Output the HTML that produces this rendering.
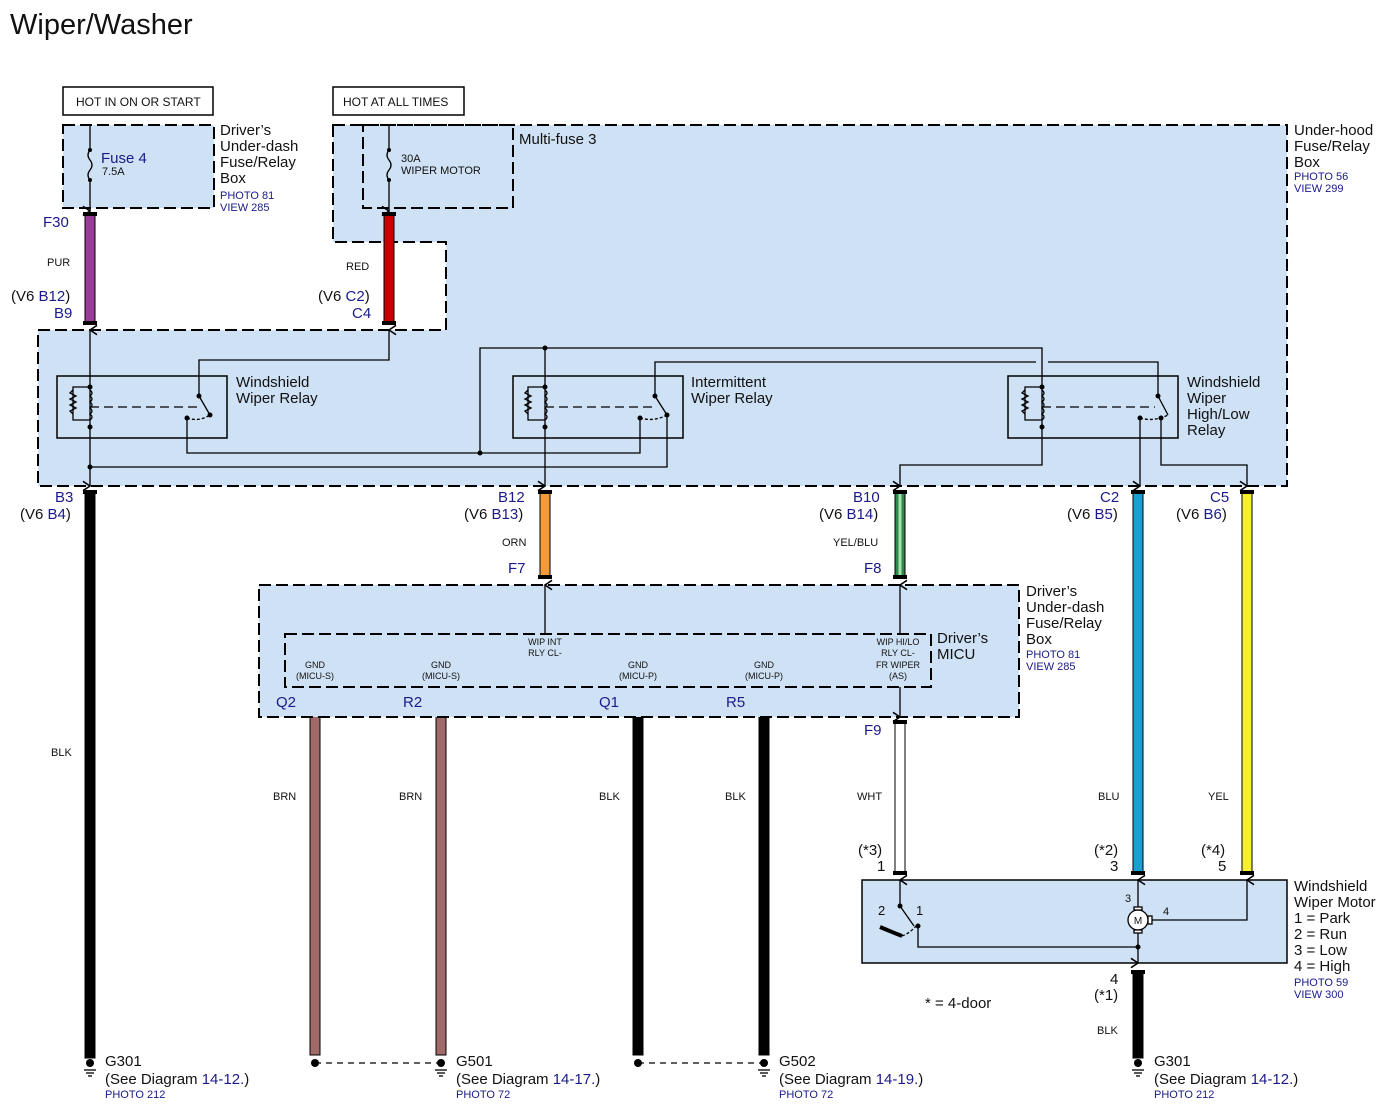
<!DOCTYPE html>
<html><head><meta charset="utf-8"><style>
html,body{margin:0;padding:0;background:#fff}
svg{display:block}
text{font-family:"Liberation Sans",sans-serif;fill:#111}
.b{fill:#1a1a8a}
.s{font-size:11px}
.m{font-size:13px}
.l{font-size:15px}
</style></head><body>
<svg width="1390" height="1119" viewBox="0 0 1390 1119" xmlns="http://www.w3.org/2000/svg">
<defs>
<marker id="ar" viewBox="0 0 10 10" refX="5" refY="1" markerWidth="9" markerHeight="9" orient="auto-start-reverse">
<path d="M1,7 L5,1 L9,7" fill="none" stroke="#000" stroke-width="1.3"/></marker>
</defs>
<text x="10" y="34" style="font-size:29px">Wiper/Washer</text>

<!-- HOT boxes -->
<rect x="63" y="87" width="150" height="28" fill="#fff" stroke="#000" stroke-width="1.5"/>
<text x="76" y="106" style="font-size:12px">HOT IN ON OR START</text>
<rect x="333" y="87" width="131" height="28" fill="#fff" stroke="#000" stroke-width="1.5"/>
<text x="343" y="106" style="font-size:12px">HOT AT ALL TIMES</text>

<!-- Under-hood box -->
<path d="M333,125 H1287 V486 H38 V330 H446 V242 H333 Z" fill="#cfe1f4" stroke="#000" stroke-width="2" stroke-dasharray="12,5"/>
<rect x="363" y="125" width="150" height="83" fill="none" stroke="#000" stroke-width="2" stroke-dasharray="12,5"/>
<rect x="63" y="125" width="151" height="83" fill="#cfe1f4" stroke="#000" stroke-width="2" stroke-dasharray="12,5"/>

<!-- fuses -->
<g stroke="#000" stroke-width="1.3" fill="none">
<line x1="90" y1="125" x2="90" y2="150"/><path d="M90,150 q-4,5 0,10 q4,5 0,10 q-4,5 0,10"/><line x1="90" y1="180" x2="90" y2="211" marker-end="url(#ar)"/>
<line x1="389" y1="125" x2="389" y2="150"/><path d="M389,150 q-4,5 0,10 q4,5 0,10 q-4,5 0,10"/><line x1="389" y1="180" x2="389" y2="211" marker-end="url(#ar)"/>
</g>
<circle cx="90" cy="150" r="2"/><circle cx="90" cy="180" r="2"/><circle cx="389" cy="150" r="2"/><circle cx="389" cy="180" r="2"/>
<text x="101" y="163" class="l b">Fuse 4</text><text x="102" y="175" class="s">7.5A</text>
<text x="401" y="162" class="s">30A</text><text x="401" y="174" class="s">WIPER MOTOR</text>
<text x="519" y="144" class="l">Multi-fuse 3</text>
<g class="l"><text x="220" y="135">Driver’s</text><text x="220" y="151">Under-dash</text><text x="220" y="167">Fuse/Relay</text><text x="220" y="183">Box</text></g>
<text x="220" y="199" class="s b">PHOTO 81</text><text x="220" y="211" class="s b">VIEW 285</text>
<g class="l"><text x="1294" y="135">Under-hood</text><text x="1294" y="151">Fuse/Relay</text><text x="1294" y="167">Box</text></g>
<text x="1294" y="180" class="s b">PHOTO 56</text><text x="1294" y="192" class="s b">VIEW 299</text>

<!-- wires -->
<g stroke="#000" stroke-width="1">
<rect x="85" y="214" width="10" height="110" fill="#9a3c9a"/>
<rect x="384" y="214" width="10" height="110" fill="#c90000"/>
<rect x="85" y="492" width="10" height="566" fill="#000"/>
<rect x="540" y="492" width="10" height="85" fill="#f39a3a"/>
<rect x="895" y="492" width="10" height="85" fill="#2c8a4a"/>
<rect x="1133" y="492" width="10" height="381" fill="#1aa0d0"/>
<rect x="1242" y="492" width="10" height="381" fill="#f7f030"/>
<rect x="895" y="722" width="10" height="151" fill="#fff"/>
<rect x="310" y="695" width="10" height="360" fill="#a06a68"/>
<rect x="436" y="695" width="10" height="360" fill="#a06a68"/>
<rect x="633" y="695" width="10" height="360" fill="#000"/>
<rect x="759" y="695" width="10" height="360" fill="#000"/>
<rect x="1133" y="972" width="10" height="86" fill="#000"/>
</g>
<line x1="900" y1="492" x2="900" y2="577" stroke="#a8e0b0" stroke-width="3"/>
<!-- terminal caps -->
<g fill="#000">
<rect x="83" y="212" width="14" height="4"/><rect x="83" y="321" width="14" height="4"/>
<rect x="382" y="212" width="14" height="4"/><rect x="382" y="321" width="14" height="4"/>
<rect x="83" y="490" width="14" height="4"/><rect x="538" y="490" width="14" height="4"/><rect x="538" y="575" width="14" height="4"/>
<rect x="893" y="490" width="14" height="4"/><rect x="893" y="575" width="14" height="4"/>
<rect x="1131" y="490" width="14" height="4"/><rect x="1240" y="490" width="14" height="4"/>
<rect x="893" y="720" width="14" height="4"/><rect x="893" y="871" width="14" height="4"/>
<rect x="1131" y="871" width="14" height="4"/><rect x="1240" y="871" width="14" height="4"/>
<rect x="308" y="693" width="14" height="4"/><rect x="434" y="693" width="14" height="4"/>
<rect x="631" y="693" width="14" height="4"/><rect x="757" y="693" width="14" height="4"/>
<rect x="1131" y="970" width="14" height="4"/>
</g>

<!-- wire labels -->
<text x="43" y="227" class="l b">F30</text>
<text x="47" y="266" class="s">PUR</text>
<text x="346" y="270" class="s">RED</text>
<text x="11" y="301" class="l">(V6 <tspan class="b">B12</tspan>)</text><text x="54" y="318" class="l b">B9</text>
<text x="318" y="301" class="l">(V6 <tspan class="b">C2</tspan>)</text><text x="352" y="318" class="l b">C4</text>
<text x="55" y="502" class="l b">B3</text><text x="20" y="519" class="l">(V6 <tspan class="b">B4</tspan>)</text>
<text x="498" y="502" class="l b">B12</text><text x="464" y="519" class="l">(V6 <tspan class="b">B13</tspan>)</text>
<text x="853" y="502" class="l b">B10</text><text x="819" y="519" class="l">(V6 <tspan class="b">B14</tspan>)</text>
<text x="1100" y="502" class="l b">C2</text><text x="1067" y="519" class="l">(V6 <tspan class="b">B5</tspan>)</text>
<text x="1210" y="502" class="l b">C5</text><text x="1176" y="519" class="l">(V6 <tspan class="b">B6</tspan>)</text>
<text x="502" y="546" class="s">ORN</text><text x="833" y="546" class="s">YEL/BLU</text>
<text x="508" y="573" class="l b">F7</text><text x="864" y="573" class="l b">F8</text>
<text x="51" y="756" class="s">BLK</text>
<text x="273" y="800" class="s">BRN</text><text x="399" y="800" class="s">BRN</text>
<text x="599" y="800" class="s">BLK</text><text x="725" y="800" class="s">BLK</text>
<text x="857" y="800" class="s">WHT</text><text x="1098" y="800" class="s">BLU</text><text x="1208" y="800" class="s">YEL</text>
<text x="864" y="735" class="l b">F9</text>
<text x="858" y="855" class="l">(*3)</text><text x="877" y="871" class="l">1</text>
<text x="1094" y="855" class="l">(*2)</text><text x="1110" y="871" class="l">3</text>
<text x="1201" y="855" class="l">(*4)</text><text x="1218" y="871" class="l">5</text>
<text x="1110" y="984" class="l">4</text><text x="1094" y="1000" class="l">(*1)</text>
<text x="1097" y="1034" class="s">BLK</text>
<text x="925" y="1008" class="l">* = 4-door</text>

<!-- relays -->
<g fill="none" stroke="#000" stroke-width="1.5">
<rect x="57" y="376" width="170" height="62"/>
<rect x="513" y="376" width="170" height="62"/>
<rect x="1008" y="376" width="170" height="62"/>
</g>
<g fill="none" stroke="#000" stroke-width="1.3">
<line x1="90" y1="330" x2="90" y2="486" marker-start="url(#ar)" marker-end="url(#ar)"/>
<path d="M90,387 H73 V420 H90"/><path d="M73,390 l-3,3 l6,3 l-6,3 l6,3 l-6,3 l6,3 l-6,3 l3,3"/>
<path d="M90,390 q4,3 0,6 q4,3 0,6 q4,3 0,6 q4,3 0,6 q4,3 0,6"/>
<line x1="90" y1="407" x2="200" y2="407" stroke-dasharray="9,5"/>
<path d="M199,396 L210,415"/><path d="M187,418 q12,4 23,-3" stroke-dasharray="3,2"/>
<path d="M199,396 V360 H389 V330" marker-end="url(#ar)"/>
<path d="M187,418 V453 H640 V418"/>
<path d="M90,467 H667 V415"/>
<line x1="545" y1="348" x2="545" y2="486" marker-end="url(#ar)"/>
<path d="M545,387 H528 V420 H545"/><path d="M528,390 l-3,3 l6,3 l-6,3 l6,3 l-6,3 l6,3 l-6,3 l3,3"/>
<path d="M545,390 q4,3 0,6 q4,3 0,6 q4,3 0,6 q4,3 0,6 q4,3 0,6"/>
<line x1="545" y1="407" x2="655" y2="407" stroke-dasharray="9,5"/>
<path d="M655,396 L667,415"/><path d="M640,418 q14,4 27,-3" stroke-dasharray="3,2"/>
<path d="M480,453 V348 H1042 V465 H900 V486" marker-end="url(#ar)"/>
<path d="M655,396 V362 H1036 M1048,362 H1158 V396"/>
<path d="M1042,387 H1025 V420 H1042"/><path d="M1025,390 l-3,3 l6,3 l-6,3 l6,3 l-6,3 l6,3 l-6,3 l3,3"/>
<path d="M1042,390 q4,3 0,6 q4,3 0,6 q4,3 0,6 q4,3 0,6 q4,3 0,6"/>
<line x1="1042" y1="407" x2="1155" y2="407" stroke-dasharray="9,5"/>
<path d="M1158,396 L1168,415"/><path d="M1140,418 q14,4 28,-3" stroke-dasharray="3,2"/>
<path d="M1140,418 V486" marker-end="url(#ar)"/>
<path d="M1161,418 V465 H1247 V486" marker-end="url(#ar)"/>
</g>
<g fill="#000">
<circle cx="90" cy="387" r="2.5"/><circle cx="90" cy="427" r="2.5"/><circle cx="90" cy="467" r="2.5"/>
<circle cx="199" cy="396" r="2.5"/><circle cx="187" cy="418" r="2.5"/><circle cx="210" cy="415" r="2.5"/>
<circle cx="545" cy="387" r="2.5"/><circle cx="545" cy="427" r="2.5"/><circle cx="545" cy="348" r="2.5"/><circle cx="480" cy="453" r="2.5"/>
<circle cx="655" cy="396" r="2.5"/><circle cx="640" cy="418" r="2.5"/><circle cx="667" cy="415" r="2.5"/>
<circle cx="1042" cy="387" r="2.5"/><circle cx="1042" cy="427" r="2.5"/>
<circle cx="1158" cy="396" r="2.5"/><circle cx="1140" cy="418" r="2.5"/><circle cx="1161" cy="418" r="2.5"/>
</g>
<g class="l"><text x="236" y="387">Windshield</text><text x="236" y="403">Wiper Relay</text>
<text x="691" y="387">Intermittent</text><text x="691" y="403">Wiper Relay</text>
<text x="1187" y="387">Windshield</text><text x="1187" y="403">Wiper</text><text x="1187" y="419">High/Low</text><text x="1187" y="435">Relay</text></g>

<!-- MICU -->
<rect x="259" y="585" width="760" height="132" fill="#cfe1f4" stroke="#000" stroke-width="2" stroke-dasharray="12,5"/>
<rect x="285" y="634" width="646" height="53" fill="none" stroke="#000" stroke-width="2" stroke-dasharray="12,5"/>
<g stroke="#000" stroke-width="1.3" fill="none">
<line x1="545" y1="634" x2="545" y2="585" marker-end="url(#ar)"/>
<line x1="900" y1="634" x2="900" y2="585" marker-end="url(#ar)"/>
<line x1="900" y1="687" x2="900" y2="717" marker-end="url(#ar)"/>
</g>
<g style="font-size:9px" text-anchor="middle">
<text x="545" y="645">WIP INT</text><text x="545" y="656">RLY CL-</text>
<text x="898" y="645">WIP HI/LO</text><text x="898" y="656">RLY CL-</text><text x="898" y="668">FR WIPER</text><text x="898" y="679">(AS)</text>
<text x="315" y="668">GND</text><text x="315" y="679">(MICU-S)</text>
<text x="441" y="668">GND</text><text x="441" y="679">(MICU-S)</text>
<text x="638" y="668">GND</text><text x="638" y="679">(MICU-P)</text>
<text x="764" y="668">GND</text><text x="764" y="679">(MICU-P)</text>
</g>
<g class="l"><text x="937" y="643">Driver’s</text><text x="937" y="659">MICU</text>
<text x="1026" y="596">Driver’s</text><text x="1026" y="612">Under-dash</text><text x="1026" y="628">Fuse/Relay</text><text x="1026" y="644">Box</text></g>
<text x="1026" y="658" class="s b">PHOTO 81</text><text x="1026" y="670" class="s b">VIEW 285</text>
<text x="276" y="707" class="l b">Q2</text><text x="403" y="707" class="l b">R2</text><text x="599" y="707" class="l b">Q1</text><text x="726" y="707" class="l b">R5</text>

<!-- motor -->
<rect x="862" y="880" width="425" height="83" fill="#cfe1f4" stroke="#000" stroke-width="1.5"/>
<g stroke="#000" stroke-width="1.3" fill="none">
<line x1="900" y1="906" x2="900" y2="880" marker-end="url(#ar)"/>
<line x1="900" y1="906" x2="914" y2="926"/>
<path d="M880,927 q12,5 22,9" stroke-width="4"/>
<path d="M902,936 q8,-3 14,-10" stroke-dasharray="3,2"/>
<path d="M918,926 V947 H1138"/>
<line x1="1138" y1="909" x2="1138" y2="880" marker-end="url(#ar)"/>
<line x1="1138" y1="932" x2="1138" y2="963" marker-end="url(#ar)"/>
<path d="M1152,920 H1247 V880" marker-end="url(#ar)"/>
<circle cx="1138" cy="920" r="10" fill="#fff"/>
<rect x="1134" y="907" width="8" height="3" fill="#fff"/><rect x="1134" y="930" width="8" height="3" fill="#fff"/><rect x="1148" y="916" width="4" height="8" fill="#fff"/>
</g>
<circle cx="900" cy="906" r="2.5"/><circle cx="918" cy="926" r="2.5"/><circle cx="1138" cy="947" r="2.5"/>
<text x="1138" y="924" style="font-size:10px" text-anchor="middle">M</text>
<text x="878" y="915" class="m">2</text><text x="916" y="915" class="m">1</text>
<text x="1125" y="902" class="s">3</text><text x="1163" y="915" class="s">4</text>
<g class="l"><text x="1294" y="891">Windshield</text><text x="1294" y="907">Wiper Motor</text><text x="1294" y="923">1 = Park</text><text x="1294" y="939">2 = Run</text><text x="1294" y="955">3 = Low</text><text x="1294" y="971">4 = High</text></g>
<text x="1294" y="986" class="s b">PHOTO 59</text><text x="1294" y="998" class="s b">VIEW 300</text>

<!-- grounds -->
<g stroke="#000" stroke-width="1.3">
<line x1="315" y1="1063" x2="441" y2="1063" stroke-dasharray="6,5"/>
<line x1="638" y1="1063" x2="764" y2="1063" stroke-dasharray="6,5"/>
<g id="gnd"><line x1="84" y1="1070" x2="96" y2="1070"/><line x1="86" y1="1073" x2="94" y2="1073"/><line x1="88" y1="1076" x2="92" y2="1076"/></g>
<use href="#gnd" x="351"/><use href="#gnd" x="674"/><use href="#gnd" x="1048"/>
</g>
<g fill="#000"><circle cx="90" cy="1063" r="4"/><circle cx="315" cy="1063" r="4"/><circle cx="441" cy="1063" r="4"/><circle cx="638" cy="1063" r="4"/><circle cx="764" cy="1063" r="4"/><circle cx="1138" cy="1063" r="4"/></g>
<text x="105" y="1066" class="l">G301</text><text x="105" y="1084" class="l">(See Diagram <tspan class="b">14-12.</tspan>)</text><text x="105" y="1098" class="s b">PHOTO 212</text>
<text x="456" y="1066" class="l">G501</text><text x="456" y="1084" class="l">(See Diagram <tspan class="b">14-17.</tspan>)</text><text x="456" y="1098" class="s b">PHOTO 72</text>
<text x="779" y="1066" class="l">G502</text><text x="779" y="1084" class="l">(See Diagram <tspan class="b">14-19.</tspan>)</text><text x="779" y="1098" class="s b">PHOTO 72</text>
<text x="1154" y="1066" class="l">G301</text><text x="1154" y="1084" class="l">(See Diagram <tspan class="b">14-12.</tspan>)</text><text x="1154" y="1098" class="s b">PHOTO 212</text>
</svg>
</body></html>
